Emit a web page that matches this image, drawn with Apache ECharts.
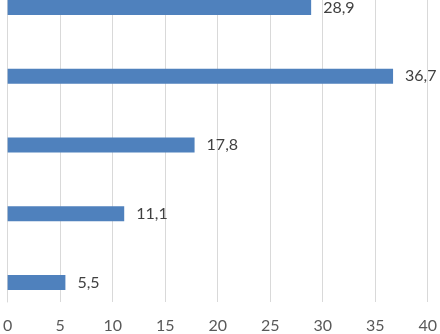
<!DOCTYPE html>
<html>
<head>
<meta charset="utf-8">
<script src="https://cdn.jsdelivr.net/npm/echarts@6/dist/echarts.min.js"></script>
<style>html,body{margin:0;padding:0;background:#fff;overflow:hidden;}#c{width:440px;height:376px;margin-top:-42px;}</style>
</head>
<body>
<div id="c"></div>
<script>
// Categories listed bottom to top
const categories = ['1', '2', '3', '4', '5'];
const values = [5.5, 11.1, 17.8, 36.7, 28.9];
const xTicks = [0, 5, 10, 15, 20, 25, 30, 35, 40];

const chart = echarts.init(document.getElementById('c'));
chart.setOption({
  animation: false,
  grid: { left: 4, right: 10, top: 0, bottom: 31, containLabel: false },
  xAxis: {
    type: 'value', min: xTicks[0], max: xTicks[xTicks.length - 1], interval: 5,
    axisLine: { show: false }, axisTick: { show: false },
    splitLine: { show: true, lineStyle: { color: '#d9d9d9', width: 1 } },
    axisLabel: { color: '#595959', fontFamily: 'Lato', fontSize: 16, margin: 16 }
  },
  yAxis: {
    type: 'category', data: categories,
    axisLine: { show: true, lineStyle: { color: '#d9d9d9', width: 1 } },
    axisTick: { show: false }, axisLabel: { show: false }
  },
  series: [
    { type: 'bar', data: [], barWidth: 15, barGap: '0%' },
    { type: 'bar', data: [], barWidth: 15, barGap: '0%' },
    {
      type: 'bar', data: values, barWidth: 15, barGap: '0%',
      itemStyle: { color: '#4f81bd' },
      label: {
        show: true, position: 'right', distance: 12,
        color: '#404040', fontFamily: 'Lato', fontSize: 16,
        formatter: p => String(p.value).replace('.', ',')
      }
    }
  ]
});
</script>
</body>
</html>
